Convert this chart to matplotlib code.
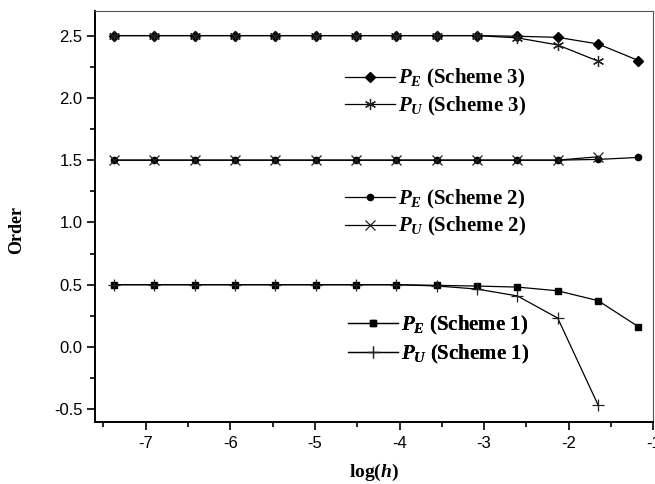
import numpy as np
import matplotlib
matplotlib.use('Agg')
import matplotlib.pyplot as plt
from matplotlib.ticker import MultipleLocator, FormatStrFormatter

plt.rcParams['mathtext.fontset'] = 'custom'
plt.rcParams['mathtext.it'] = 'Liberation Serif:bold:italic'
plt.rcParams['mathtext.rm'] = 'Liberation Serif:bold'
plt.rcParams['axes.unicode_minus'] = False

# log(h) sample points
log_h = [-7.378, -6.900, -6.423, -5.946, -5.469, -4.992, -4.515,
         -4.038, -3.561, -3.084, -2.607, -2.130, -1.653, -1.176]

# Scheme 1
pe_1 = [0.50, 0.50, 0.50, 0.50, 0.50, 0.50, 0.50,
        0.50, 0.495, 0.489, 0.481, 0.451, 0.372, 0.163]
pu_1 = [0.50, 0.50, 0.50, 0.50, 0.50, 0.50, 0.50,
        0.50, 0.49, 0.465, 0.41, 0.232, -0.465]
# Scheme 2
pe_2 = [1.50, 1.50, 1.50, 1.50, 1.50, 1.50, 1.50,
        1.50, 1.50, 1.50, 1.50, 1.50, 1.506, 1.522]
pu_2 = [1.50, 1.50, 1.50, 1.50, 1.50, 1.50, 1.50,
        1.50, 1.50, 1.50, 1.50, 1.50, 1.527]
# Scheme 3
pe_3 = [2.50, 2.50, 2.50, 2.50, 2.50, 2.50, 2.50,
        2.50, 2.50, 2.50, 2.495, 2.486, 2.433, 2.300]
pu_3 = [2.50, 2.50, 2.50, 2.50, 2.50, 2.50, 2.50,
        2.50, 2.50, 2.50, 2.482, 2.425, 2.295]

fig = plt.figure(figsize=(6.55, 4.84), dpi=100)
ax = fig.add_axes([0.145, 0.1287, 0.8524, 0.8492])

lw = 0.9
asterisk = (6, 2, 0)
h_pe3, = ax.plot(log_h, pe_3, color='k', lw=lw, marker='D', ms=5,
                 mfc='k', mec='k')
h_pu3, = ax.plot(log_h[:len(pu_3)], pu_3, color='k', lw=lw, marker=asterisk,
                 ms=8, mec='#222222', mew=0.9)
h_pe2, = ax.plot(log_h, pe_2, color='k', lw=lw, marker='o', ms=4.5,
                 mfc='k', mec='k')
h_pu2, = ax.plot(log_h[:len(pu_2)], pu_2, color='k', lw=lw, marker='x',
                 ms=7, mec='#222222', mew=0.9)
h_pe1, = ax.plot(log_h, pe_1, color='k', lw=lw, marker='s', ms=4,
                 mfc='k', mec='k')
h_pu1, = ax.plot(log_h[:len(pu_1)], pu_1, color='k', lw=lw, marker='+',
                 ms=8.5, mec='#222222', mew=0.9)

leg_font = {'family': 'Liberation Serif', 'weight': 'bold', 'size': 15}
groups = [
    ([h_pe3, h_pu3], 3, (0.447, 0.862), 0.2),
    ([h_pe2, h_pu2], 2, (0.447, 0.568), 0.2),
    ([h_pe1, h_pu1], 1, (0.453, 0.263), 0.3),
]
for handles, n, anchor, spacing in groups:
    labels = [r'$P_E$ (Scheme %d)' % n, r'$P_U$ (Scheme %d)' % n]
    leg = ax.legend(handles, labels, loc='upper left', bbox_to_anchor=anchor,
                    frameon=False, prop=leg_font, borderpad=0,
                    borderaxespad=0, handlelength=2.4, handletextpad=0.15,
                    labelspacing=spacing, numpoints=1)
    ax.add_artist(leg)

ax.set_xlim(-7.6, -1.0)
ax.set_ylim(-0.6, 2.7)
ax.xaxis.set_major_locator(MultipleLocator(1))
ax.xaxis.set_minor_locator(MultipleLocator(0.5))
ax.yaxis.set_major_locator(MultipleLocator(0.5))
ax.yaxis.set_minor_locator(MultipleLocator(0.25))
ax.yaxis.set_major_formatter(FormatStrFormatter('%.1f'))
ax.xaxis.set_major_formatter(FormatStrFormatter('%d'))
ax.tick_params(which='both', direction='out', top=False, right=False,
               width=1.2, labelsize=12)
ax.tick_params(which='major', length=6)
ax.tick_params(which='minor', length=3.5)
ax.tick_params(axis='x', pad=4)
ax.tick_params(axis='y', pad=3)
for lab in ax.get_xticklabels() + ax.get_yticklabels():
    lab.set_family('Liberation Sans')

for side in ['left', 'bottom']:
    ax.spines[side].set_linewidth(1.4)
for side in ['top', 'right']:
    ax.spines[side].set_linewidth(0.8)
    ax.spines[side].set_color('#555555')

fig.text(374 / 655, 1 - 472 / 484, r'log($\mathit{h}$)',
         family='Liberation Serif', weight='bold', size=14,
         ha='center', va='center')
fig.text(17 / 655, 1 - 230 / 484, 'Order', family='Liberation Serif',
         weight='bold', size=13, rotation=90, ha='center', va='center')

fig.savefig('out.png', dpi=100)
